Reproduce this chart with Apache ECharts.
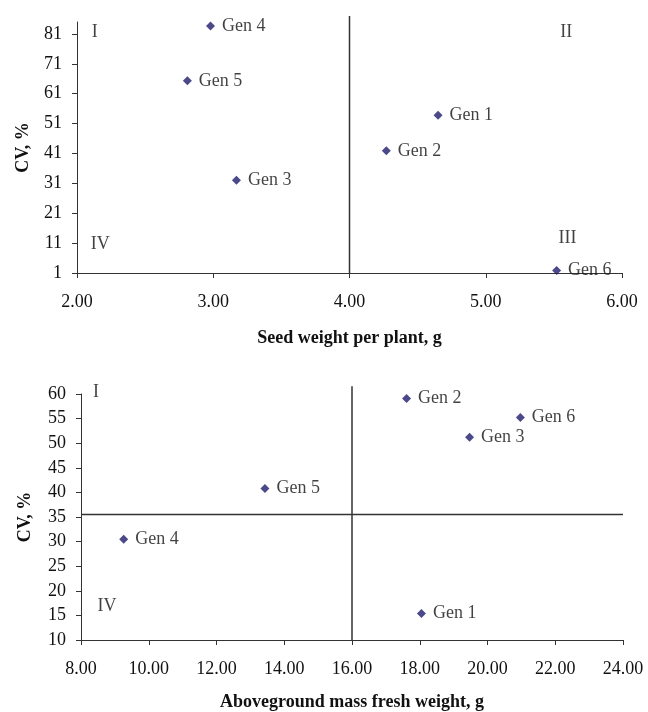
<!DOCTYPE html>
<html>
<head>
<meta charset="utf-8">
<script src="https://cdn.jsdelivr.net/npm/echarts@6/dist/echarts.min.js"></script>
<style>
  html, body { margin: 0; padding: 0; background: #fff; }
  #chart { width: 648px; height: 712px; }
</style>
</head>
<body>
<div id="chart"></div>
<script>
// genotypes
var genNames = ['Gen 1', 'Gen 2', 'Gen 3', 'Gen 4', 'Gen 5', 'Gen 6'];

// top: seed weight per plant vs CV
var seedWeight = [4.65, 4.27, 3.17, 2.98, 2.81, 5.52];
var seedCV = [53.8, 41.9, 32.0, 83.7, 65.3, 1.8];

// bottom: aboveground mass fresh weight vs CV
var freshWeight = [18.05, 17.61, 19.47, 9.26, 13.43, 20.97];
var freshCV = [15.4, 59.1, 51.2, 30.5, 40.8, 55.2];

// tick labels
var topXTicks = [2, 3, 4, 5, 6];
var topYTicks = [1, 11, 21, 31, 41, 51, 61, 71, 81];
var bottomXTicks = [8, 10, 12, 14, 16, 18, 20, 22, 24];
var bottomYTicks = [10, 15, 20, 25, 30, 35, 40, 45, 50, 55, 60];

// quadrant dividers
var topDivX = 4;
var bottomDivX = 16;
var bottomDivY = 35.5;

// quadrant names
var topQuadNames = ['I', 'II', 'III', 'IV'];
var topQuadX = [2.13, 5.59, 5.60, 2.17];
var topQuadY = [81.6, 81.6, 12.7, 10.7];
var bottomQuadNames = ['I', 'IV'];
var bottomQuadX = [8.44, 8.77];
var bottomQuadY = [60.4, 16.8];

var serif = '"Liberation Serif", "Times New Roman", serif';
var ink = '#111111';
var lineCol = '#333333';
var dotCol = '#1e1b6b';

function pts(xs, ys, names) {
  return xs.map(function (x, i) { return { name: names[i], value: [x, ys[i]] }; });
}

function xAxis(idx, min, max, interval, name, gap) {
  return {
    type: 'value', gridIndex: idx, min: min, max: max, interval: interval,
    name: name, nameLocation: 'middle', nameGap: gap,
    nameTextStyle: { fontFamily: serif, fontWeight: 'bold', fontSize: 18, color: ink },
    axisLine: { onZero: false, lineStyle: { color: lineCol, width: 1 } },
    axisTick: { show: true, length: 5, lineStyle: { color: lineCol } },
    axisLabel: { fontFamily: serif, fontSize: 18, color: ink, margin: 20,
      formatter: function (v) { return v.toFixed(2); } },
    splitLine: { show: false }
  };
}

function yAxis(idx, min, max, ticks, gap) {
  return {
    type: 'value', gridIndex: idx, min: min, max: max,
    name: 'CV, %', nameLocation: 'middle', nameGap: gap, nameRotate: 90,
    nameTextStyle: { fontFamily: serif, fontWeight: 'bold', fontSize: 18, color: ink },
    axisLine: { show: true, onZero: false, lineStyle: { color: lineCol, width: 1 } },
    axisTick: { show: true, length: 5, customValues: ticks, lineStyle: { color: lineCol } },
    axisLabel: { fontFamily: serif, fontSize: 18, color: ink, margin: 15, customValues: ticks },
    splitLine: { show: false }
  };
}

function scatter(idx, data) {
  return {
    type: 'scatter', xAxisIndex: idx, yAxisIndex: idx, data: data,
    symbol: 'diamond', symbolSize: 9, itemStyle: { color: dotCol },
    label: { show: true, position: 'right', distance: 7, formatter: '{b}',
      fontFamily: serif, fontSize: 18, color: ink },
    clip: false, z: 5
  };
}

function quadLabels(idx, names, xs, ys) {
  return {
    type: 'scatter', xAxisIndex: idx, yAxisIndex: idx,
    data: pts(xs, ys, names), symbolSize: 0, silent: true,
    label: { show: true, position: 'inside', formatter: '{b}',
      fontFamily: serif, fontSize: 18, color: ink },
    clip: false
  };
}

function divider(idx, data) {
  return {
    type: 'line', xAxisIndex: idx, yAxisIndex: idx, data: data,
    symbol: 'none', silent: true, clip: false,
    lineStyle: { color: lineCol, width: 1.5 }, z: 3
  };
}

var chart = echarts.init(document.getElementById('chart'));
chart.setOption({
  animation: false,
  backgroundColor: '#fff',
  grid: [
    { left: 77, right: 26, top: 22, bottom: 439 },
    { left: 81, right: 25, top: 394, bottom: 70 }
  ],
  xAxis: [
    xAxis(0, topXTicks[0], topXTicks[topXTicks.length - 1], 1, 'Seed weight per plant, g', 56),
    xAxis(1, bottomXTicks[0], bottomXTicks[bottomXTicks.length - 1], 2, 'Aboveground mass fresh weight, g', 53)
  ],
  yAxis: [
    yAxis(0, topYTicks[0], 85, topYTicks, 45),
    yAxis(1, bottomYTicks[0], bottomYTicks[bottomYTicks.length - 1], bottomYTicks, 47)
  ],
  series: [
    divider(0, [[topDivX, topYTicks[0]], [topDivX, 87]]),
    divider(1, [[bottomDivX, bottomYTicks[0]], [bottomDivX, 61.6]]),
    divider(1, [[bottomXTicks[0], bottomDivY], [bottomXTicks[bottomXTicks.length - 1], bottomDivY]]),
    scatter(0, pts(seedWeight, seedCV, genNames)),
    scatter(1, pts(freshWeight, freshCV, genNames)),
    quadLabels(0, topQuadNames, topQuadX, topQuadY),
    quadLabels(1, bottomQuadNames, bottomQuadX, bottomQuadY)
  ]
});
</script>
</body>
</html>
